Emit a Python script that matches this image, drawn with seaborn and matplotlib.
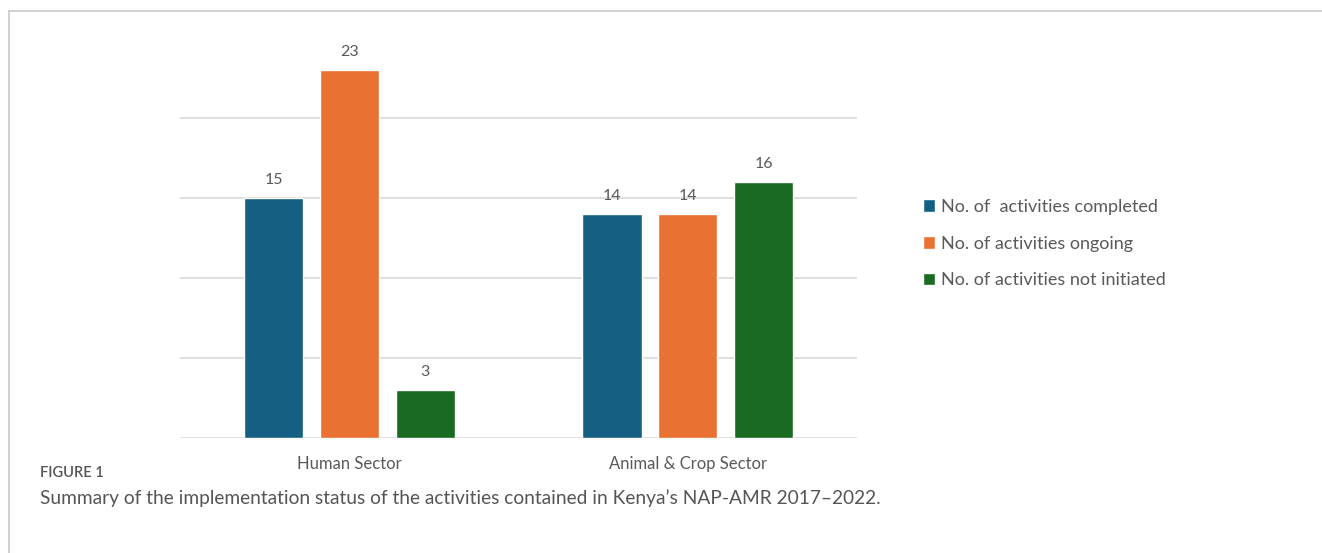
import pandas as pd
import matplotlib.pyplot as plt
import seaborn as sns

# Data
sectors = ['Human Sector', 'Animal & Crop Sector']
statuses = ['No. of  activities completed', 'No. of activities ongoing', 'No. of activities not initiated']
completed = [15, 14]
ongoing = [23, 14]
not_initiated = [3, 16]

colors = ['#156082', '#E97132', '#196B24']

df = pd.DataFrame({
    'sector': sectors * 3,
    'status': [statuses[0]] * 2 + [statuses[1]] * 2 + [statuses[2]] * 2,
    'count': completed + ongoing + not_initiated,
})

sns.set_style('white')
plt.rcParams['font.family'] = ['Lato', 'DejaVu Sans']

fig = plt.figure(figsize=(13.22, 5.53), dpi=100)
ax = fig.add_axes([0.1362, 0.208, 0.5121, 0.723])

sns.barplot(data=df, x='sector', y='count', hue='status', palette=colors,
            width=0.672, gap=0.22, ax=ax, saturation=1)

for cont in ax.containers:
    ax.bar_label(cont, padding=8, fontsize=11.5, color='#595959')

ax.set_ylim(0, 25)
ax.set_xlim(-0.5, 1.5)
ax.set_yticks([0, 5, 10, 15, 20])
ax.set_yticklabels([])
ax.tick_params(axis='y', length=0)
ax.tick_params(axis='x', length=0, pad=13, labelsize=12, labelcolor='#595959')
ax.yaxis.grid(True, color='#d9d9d9', linewidth=1.2)
ax.set_axisbelow(True)
for s in ax.spines.values():
    s.set_visible(False)
ax.set_xlabel('')
ax.set_ylabel('')

ax.legend(loc='center left', bbox_to_anchor=(1.073, 0.486), frameon=False,
          fontsize=13, labelcolor='#595959', handlelength=0.7, handleheight=0.7,
          handletextpad=0.3, labelspacing=1.15)

# outer frame (top and left edge)
fig.add_artist(plt.Line2D([0.007, 1.0], [0.980, 0.980], color='#c8c8c8', lw=1.2,
                          transform=fig.transFigure))
fig.add_artist(plt.Line2D([0.007, 0.007], [0.0, 0.980], color='#c8c8c8', lw=1.2,
                          transform=fig.transFigure))

fig.text(0.030, 0.145, 'FIGURE 1', fontsize=10.5, color='#555555', va='center', weight='semibold')
fig.text(0.030, 0.100, 'Summary of the implementation status of the activities contained in Kenya\u2019s NAP-AMR 2017\u20132022.',
         fontsize=13.8, color='#555555', va='center')

plt.savefig('out.png', dpi=100)
